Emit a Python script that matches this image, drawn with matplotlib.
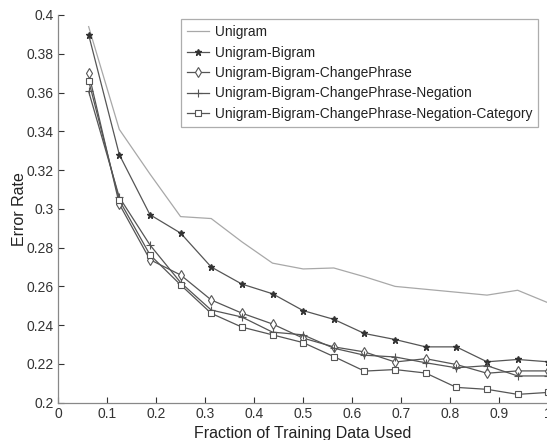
import matplotlib
matplotlib.use("Agg")
import matplotlib.pyplot as plt
from matplotlib import font_manager

# training fraction (1/16 steps)
fraction = [0.0625, 0.125, 0.1875, 0.25, 0.3125, 0.375, 0.4375, 0.5,
            0.5625, 0.625, 0.6875, 0.75, 0.8125, 0.875, 0.9375, 1.0]

unigram = [0.394, 0.341, 0.318, 0.296, 0.295, 0.283, 0.272, 0.269,
           0.2695, 0.265, 0.260, 0.2585, 0.257, 0.2555, 0.258, 0.2515]
bigram = [0.3898, 0.328, 0.297, 0.2875, 0.270, 0.2612, 0.2562, 0.2475,
          0.2430, 0.2357, 0.2326, 0.2288, 0.2288, 0.2211, 0.2223, 0.2211]
change_phrase = [0.3700, 0.3025, 0.2738, 0.2659, 0.2530, 0.2462, 0.2406, 0.2333,
                 0.2288, 0.2262, 0.2210, 0.2227, 0.2197, 0.2152, 0.2164, 0.2164]
negation = [0.3606, 0.3060, 0.2814, 0.2620, 0.2478, 0.2442, 0.2364, 0.2350,
            0.2281, 0.2245, 0.2236, 0.2206, 0.2180, 0.2191, 0.2138, 0.2138]
category = [0.3661, 0.3045, 0.2763, 0.2608, 0.2461, 0.2390, 0.2350, 0.2310,
            0.2238, 0.2163, 0.2171, 0.2153, 0.2079, 0.2069, 0.2043, 0.2053]

labels = ["Unigram", "Unigram-Bigram", "Unigram-Bigram-ChangePhrase",
          "Unigram-Bigram-ChangePhrase-Negation",
          "Unigram-Bigram-ChangePhrase-Negation-Category"]

names = {f.name for f in font_manager.fontManager.ttflist}
narrow = "Liberation Sans Narrow" in names
font = "Liberation Sans Narrow" if narrow else "Liberation Sans"
plt.rcParams["font.family"] = [font, "DejaVu Sans"]

fig = plt.figure(figsize=(5.47, 4.40), dpi=100)
ax = fig.add_axes([58 / 547, 37.3 / 440, 490.3 / 547, 387.7 / 440])

dark = "#555555"
ax.plot(fraction, unigram, color="#a8a8a8", lw=0.9, label=labels[0])
ax.plot(fraction, bigram, color=dark, lw=0.9, marker="*", ms=4.5,
        mfc="#333333", mec="#333333", label=labels[1])
ax.plot(fraction, change_phrase, color=dark, lw=0.9, marker="d", ms=5.5,
        mfc="white", mec=dark, mew=0.8, label=labels[2])
ax.plot(fraction, negation, color=dark, lw=0.9, marker="+", ms=6,
        mec=dark, mew=0.8, label=labels[3])
ax.plot(fraction, category, color=dark, lw=0.9, marker="s", ms=4.5,
        mfc="white", mec=dark, mew=0.8, label=labels[4])

ax.set_xlim(0, 1)
ax.set_ylim(0.2, 0.4)
ax.set_xticks([0, 0.1, 0.2, 0.3, 0.4, 0.5, 0.6, 0.7, 0.8, 0.9, 1])
ax.set_xticklabels(["0", "0.1", "0.2", "0.3", "0.4", "0.5", "0.6", "0.7", "0.8", "0.9", "1"])
ax.set_yticks([0.2, 0.22, 0.24, 0.26, 0.28, 0.3, 0.32, 0.34, 0.36, 0.38, 0.4])
ax.set_yticklabels(["0.2", "0.22", "0.24", "0.26", "0.28", "0.3", "0.32",
                    "0.34", "0.36", "0.38", "0.4"])
ax.tick_params(direction="in", length=4, labelsize=10, colors="#333333", pad=3)
for side in ["top", "right"]:
    ax.spines[side].set_visible(False)
for side in ["left", "bottom"]:
    ax.spines[side].set_color("#888888")
    ax.spines[side].set_linewidth(0.9)

ax.set_xlabel("Fraction of Training Data Used", fontsize=11.5, color="#222222", labelpad=3.5)
ax.set_ylabel("Error Rate", fontsize=11.5, color="#222222", labelpad=0)

# pick a legend font size so the longest label is ~320 px wide, like the reference
renderer = fig.canvas.get_renderer()
probe = fig.text(0, 0, labels[-1], fontsize=10)
w10 = probe.get_window_extent(renderer).width
probe.remove()
leg_size = min(12, 10 * 318 / w10)

leg = ax.legend(loc="upper left", bbox_to_anchor=(181 / 547, 420.7 / 440),
                bbox_transform=fig.transFigure, fontsize=leg_size, frameon=True,
                fancybox=False, edgecolor="#999999", handlelength=1.6,
                handletextpad=0.45, borderpad=0.42, labelspacing=0.47,
                borderaxespad=0)
leg.get_frame().set_linewidth(0.9)
for t in leg.get_texts():
    t.set_color("#222222")

fig.savefig("out.png", dpi=100)
